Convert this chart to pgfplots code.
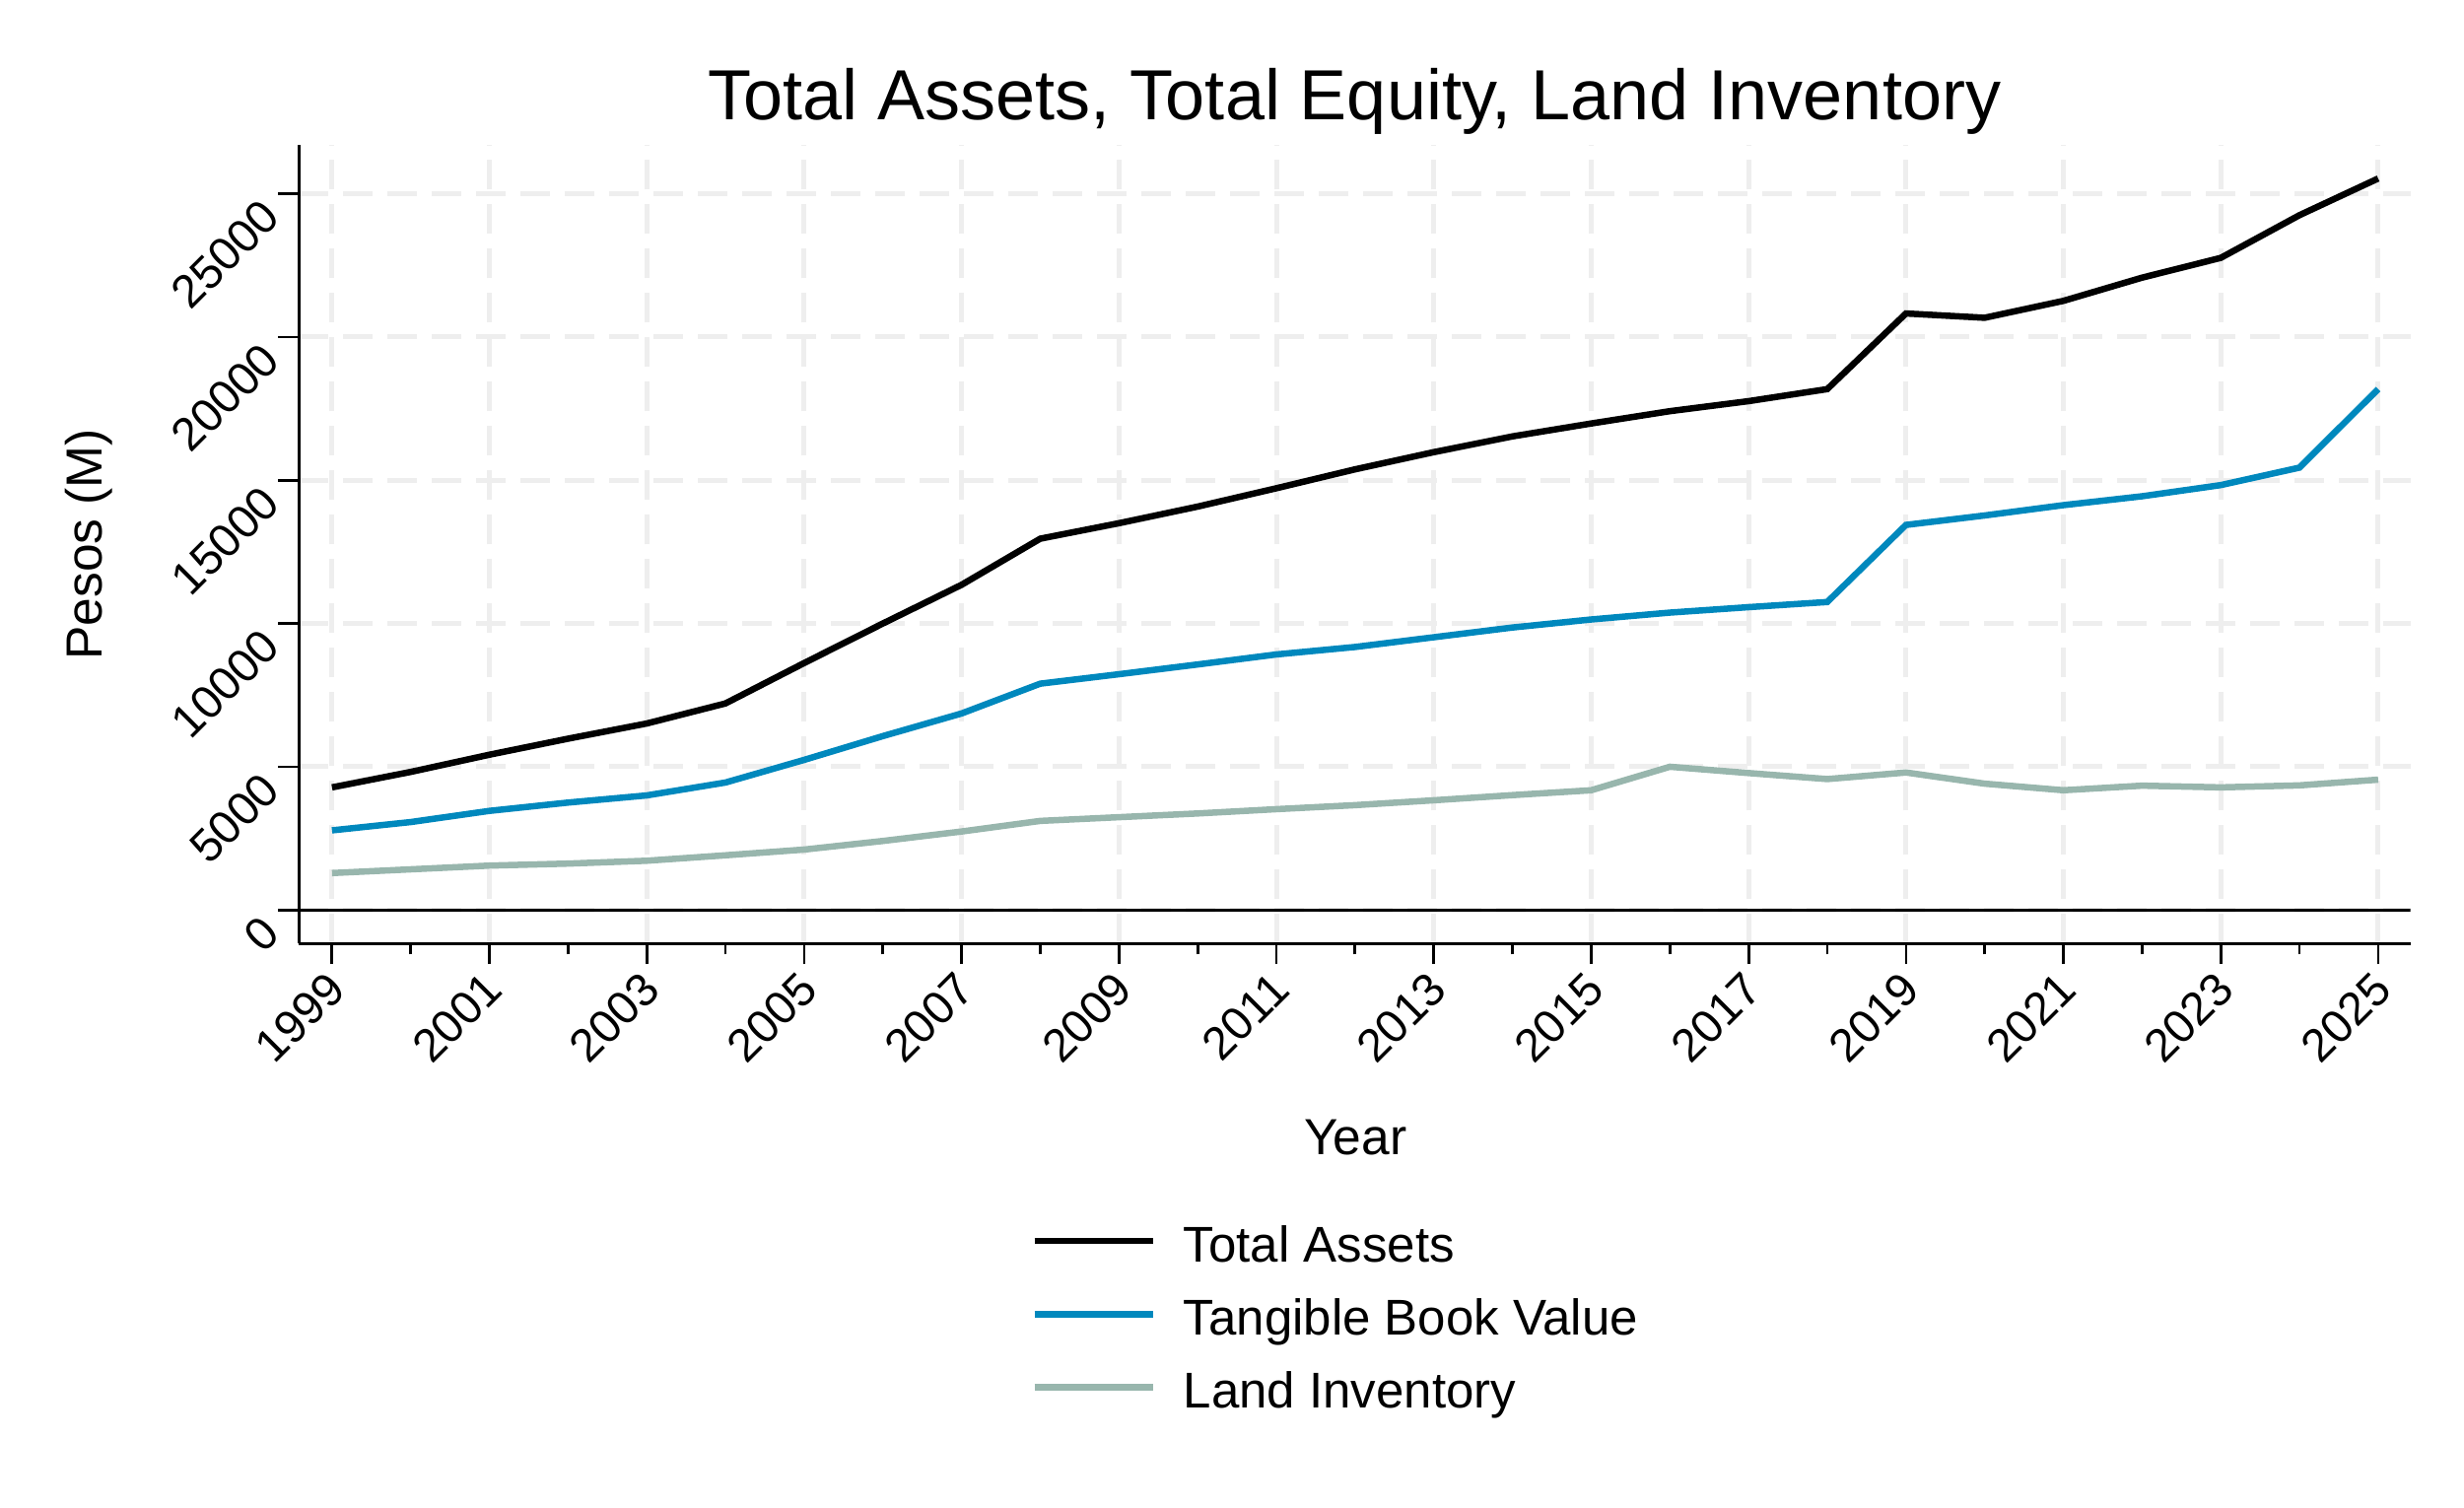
\documentclass[border=0pt]{standalone}
\usepackage{pgfplots}
\pgfplotsset{compat=1.18}
\usepackage{fontspec}
\setmainfont{Liberation Sans}

\definecolor{tbvblue}{RGB}{0,136,189}
\definecolor{landgray}{RGB}{152,182,173}
\definecolor{gridgray}{RGB}{238,238,238}

\begin{document}
\begin{tikzpicture}
\useasboundingbox (0,0) rectangle (500pt,305.8pt);
\begin{axis}[
    at={(60.66pt,114.34pt)}, anchor=south west,
    scale only axis,
    width=428.46pt, height=162.04pt,
    xmin=1998.58, xmax=2025.41,
    ymin=-1170, ymax=26700,
    axis x line*=bottom, axis y line*=left,
    axis line style={line width=0.55pt},
    tick align=outside,
    major tick length=4.2pt, minor tick length=2.2pt,
    tick style={black, line width=0.55pt},
    xtick={1999,2001,...,2025},
    minor xtick={2000,2002,...,2024},
    ytick={0,5000,...,25000},
    scaled ticks=false,
    /pgf/number format/1000 sep={},
    /pgf/number format/assume math mode=true,
    xmajorgrids, ymajorgrids,
    major grid style={gridgray, line width=1pt, dash pattern=on 6pt off 3pt},
    xticklabel style={font=\fontsize{9.4}{11}\selectfont, rotate=45, anchor=east, inner sep=0pt, xshift=-1.6pt, yshift=-3pt},
    yticklabel style={font=\fontsize{9.4}{11}\selectfont, rotate=45, anchor=east, inner sep=0pt, xshift=-3pt, yshift=-1.1pt},
    every axis title shift=0pt,
    title={Total Assets, Total Equity, Land Inventory},
    title style={font=\fontsize{14.4}{17}\selectfont, at={(axis description cs:0.5,1.0322)}, anchor=base, inner sep=0pt},
    xlabel={Year},
    xlabel style={font=\fontsize{10.3}{12}\selectfont, at={(axis description cs:0.5003,-0.2638)}, anchor=base, inner sep=0pt},
    ylabel={Pesos (M)},
    ylabel style={font=\fontsize{10.3}{12}\selectfont, at={(axis description cs:-0.0934,0.5)}, rotate=0, anchor=base, inner sep=0pt},
    legend style={
        at={(axis description cs:0.3468,-0.3265)}, anchor=north west,
        draw=none, fill=none, inner sep=0pt, outer sep=0pt,
        font=\fontsize{10.2}{12}\selectfont,
        row sep=0pt,
        nodes={inner xsep=0pt, inner ysep=0pt, text height=11.64pt, text depth=3.23pt, anchor=west},
        /tikz/every odd column/.append style={column sep=5.6pt},
    },
    legend cell align=left,
    legend image code/.code={\draw[#1] (0pt,0pt) -- (24pt,0pt);},
]

% zero reference line
\addplot[black, line width=0.6pt, forget plot] coordinates {(1998.58,0) (2025.41,0)};

% Total Assets
\addplot[black, line width=1.3pt] coordinates {
    (1999,4280) (2000,4820) (2001,5420) (2002,5980) (2003,6510)
    (2004,7210) (2005,8620) (2006,10000) (2007,11350) (2008,12960)
    (2009,13500) (2010,14080) (2011,14720) (2012,15380) (2013,15980)
    (2014,16530) (2015,16980) (2016,17410) (2017,17760) (2018,18180)
    (2019,20820) (2020,20670) (2021,21260) (2022,22070) (2023,22760)
    (2024,24250) (2025,25530)
};

% Tangible Book Value
\addplot[tbvblue, line width=1.3pt] coordinates {
    (1999,2780) (2000,3070) (2001,3460) (2002,3750) (2003,4000)
    (2004,4450) (2005,5240) (2006,6070) (2007,6860) (2008,7900)
    (2009,8230) (2010,8570) (2011,8920) (2012,9180) (2013,9520)
    (2014,9860) (2015,10140) (2016,10380) (2017,10570) (2018,10750)
    (2019,13440) (2020,13770) (2021,14130) (2022,14440) (2023,14830)
    (2024,15440) (2025,18180)
};

% Land Inventory
\addplot[landgray, line width=1.3pt] coordinates {
    (1999,1290) (2000,1420) (2001,1550) (2002,1620) (2003,1720)
    (2004,1910) (2005,2110) (2006,2410) (2007,2740) (2008,3110)
    (2009,3240) (2010,3370) (2011,3520) (2012,3660) (2013,3830)
    (2014,4010) (2015,4180) (2016,5000) (2017,4780) (2018,4570)
    (2019,4800) (2020,4410) (2021,4180) (2022,4340) (2023,4280)
    (2024,4350) (2025,4550)
};

\legend{Total Assets, Tangible Book Value, Land Inventory}
\end{axis}
\end{tikzpicture}
\end{document}
